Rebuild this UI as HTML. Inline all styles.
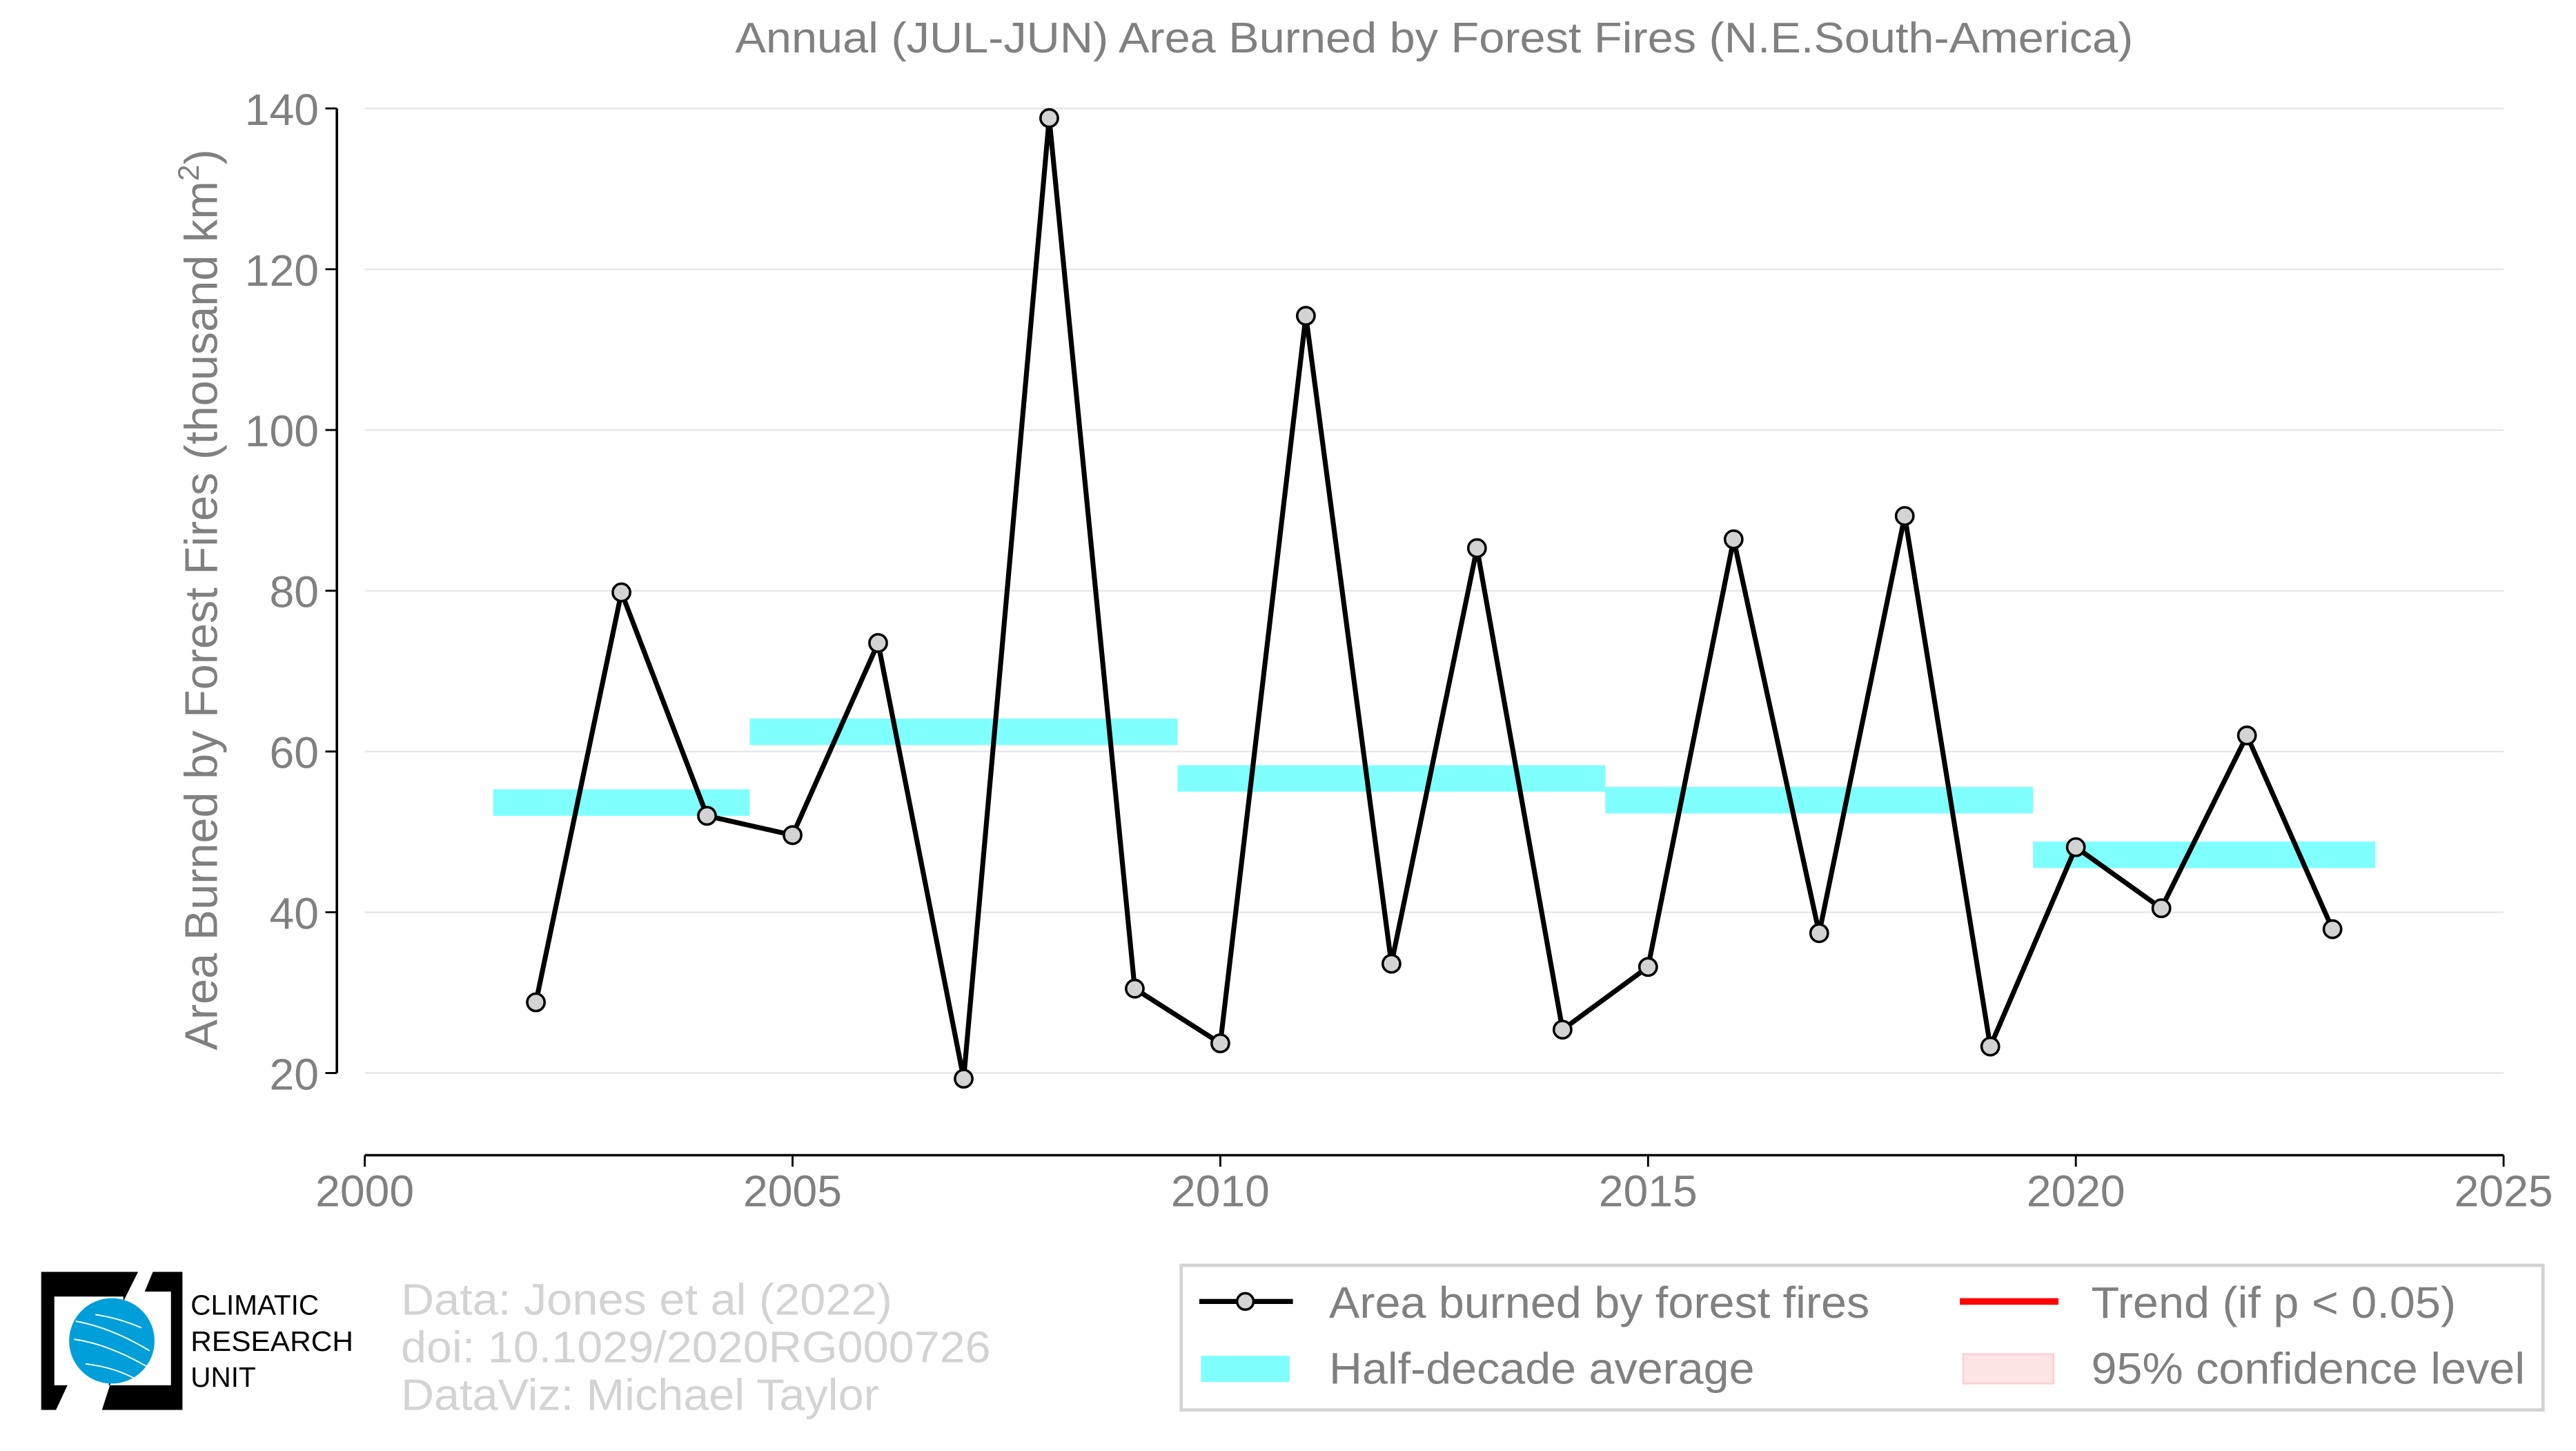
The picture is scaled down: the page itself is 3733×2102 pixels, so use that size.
<!DOCTYPE html>
<html><head><meta charset="utf-8"><style>
html,body{margin:0;padding:0;background:#fff;}
svg{display:block;font-family:"Liberation Sans",sans-serif;}
</style></head><body>
<svg id="chart" width="3733" height="2102" viewBox="0 0 1568 883" xmlns="http://www.w3.org/2000/svg">
<rect width="1568" height="883" fill="#fff"/>
<text x="873" y="32" text-anchor="middle" font-size="26" fill="#808080" textLength="851" lengthAdjust="spacingAndGlyphs">Annual (JUL-JUN) Area Burned by Forest Fires (N.E.South-America)</text>
<g id="grid"></g>
<g id="bars"></g>
<g id="axes"></g>
<g id="series"></g>
<text transform="translate(132,365) rotate(-90)" text-anchor="middle" font-size="28" fill="#808080">Area Burned by Forest Fires (thousand km<tspan font-size="18" dy="-11">2</tspan><tspan dy="11">)</tspan></text>

<g>
<path d="M25,774 H84 L75,792 V789 H33 V843 H41 L34,858 H25 Z" fill="#000"/>
<path d="M111,774 H93 L88,786 H104 V843 H66 L71,830 L62,858 H111 Z" fill="#000"/>
<circle cx="68" cy="816" r="26" fill="#009fd9"/>
<path d="M46,804 Q68,808 91,822 M45,815 Q66,818 90,832 M52,830 Q70,832 84,840 M58,800 Q72,802 86,808" stroke="#fff" stroke-width="0.8" fill="none"/>
<text x="116" y="800" font-size="17" fill="#000">CLIMATIC</text>
<text x="116" y="822" font-size="17" fill="#000" textLength="99" lengthAdjust="spacingAndGlyphs">RESEARCH</text>
<text x="116" y="844" font-size="17" fill="#000">UNIT</text>
</g>
<g font-size="27" fill="#d3d3d3">
<text x="244" y="800" textLength="299" lengthAdjust="spacingAndGlyphs">Data: Jones et al (2022)</text>
<text x="244" y="829" textLength="359" lengthAdjust="spacingAndGlyphs">doi: 10.1029/2020RG000726</text>
<text x="244" y="858" textLength="291" lengthAdjust="spacingAndGlyphs">DataViz: Michael Taylor</text>
</g>
<g>
<rect x="719" y="770" width="829" height="88" fill="#fff" stroke="#d3d3d3" stroke-width="2"/>
<g>
<line x1="730" y1="792" x2="787" y2="792" stroke="#000" stroke-width="3"/>
<circle cx="758" cy="792" r="5" fill="#d3d3d3" stroke="#000" stroke-width="1.5"/>
<text x="809" y="802" font-size="27" fill="#808080" textLength="329" lengthAdjust="spacingAndGlyphs">Area burned by forest fires</text></g>
<g>
<line x1="1193" y1="792" x2="1253" y2="792" stroke="#ff0000" stroke-width="4"/>
<text x="1273" y="802" font-size="27" fill="#808080" textLength="222" lengthAdjust="spacingAndGlyphs">Trend (if p &lt; 0.05)</text></g>
<g>
<rect x="731" y="825" width="54" height="16" fill="#80ffff"/>
<text x="809" y="842" font-size="27" fill="#808080" textLength="259" lengthAdjust="spacingAndGlyphs">Half-decade average</text></g>
<g>
<rect x="1195" y="824" width="55" height="18" fill="#ffe4e4" stroke="#ffd0d0" stroke-width="1"/>
<text x="1273" y="842" font-size="27" fill="#808080" textLength="264" lengthAdjust="spacingAndGlyphs">95% confidence level</text></g>
</g>
</svg>
<script>
const years=[2002,2003,2004,2005,2006,2007,2008,2009,2010,2011,2012,2013,2014,2015,2016,2017,2018,2019,2020,2021,2022,2023];
const values=[28.8,79.8,52,49.6,73.5,19.3,138.8,30.5,23.7,114.2,33.6,85.3,25.4,33.2,86.4,37.4,89.3,23.3,48.1,40.5,62,37.9];
const halfStart=[2001.5,2004.5,2009.5,2014.5,2019.5];
const halfEnd=[2004.5,2009.5,2014.5,2019.5,2023.5];
const halfLow=[52,60.8,55,52.3,45.5];
const halfHigh=[55.3,64.1,58.3,55.6,48.8];
const yTicks=[20,40,60,80,100,120,140];
const xTicks=[2000,2005,2010,2015,2020,2025];
const NS="http://www.w3.org/2000/svg";
const X=v=>222+(v-2000)*(1302/25);
const Y=v=>653-(v-20)*(587/120);
function mk(tag,attrs,parent){const e=document.createElementNS(NS,tag);for(const k in attrs)e.setAttribute(k,attrs[k]);parent.appendChild(e);return e;}
const grid=document.getElementById('grid'),axes=document.getElementById('axes'),bars=document.getElementById('bars'),ser=document.getElementById('series');
yTicks.forEach(t=>{
 const g=mk('line',{x1:222,x2:1524,y1:Y(t),y2:Y(t),stroke:'#e6e6e6','stroke-width':1},grid);
 
 
 const tk=mk('line',{x1:198,x2:205,y1:Y(t),y2:Y(t),stroke:'#000','stroke-width':1.2},axes);
 
 
 const tx=mk('text',{x:194,y:Y(t)+10,'text-anchor':'end','font-size':27,fill:'#808080'},axes);
 tx.textContent=t;
 
 
});
const ya=mk('line',{x1:205,x2:205,y1:Y(140),y2:Y(20),stroke:'#000','stroke-width':1.5},axes);


const xa=mk('line',{x1:222,x2:1524,y1:703,y2:703,stroke:'#000','stroke-width':1.5},axes);


xTicks.forEach(t=>{
 const tk=mk('line',{x1:X(t),x2:X(t),y1:703,y2:710,stroke:'#000','stroke-width':1.2},axes);
 
 
 const tx=mk('text',{x:X(t),y:734,'text-anchor':'middle','font-size':27,fill:'#808080'},axes);
 tx.textContent=t;
 
 
});
halfStart.forEach((s,i)=>{
 const r=mk('rect',{x:X(s),y:Y(halfHigh[i]),width:X(halfEnd[i])-X(s),height:Y(halfLow[i])-Y(halfHigh[i]),fill:'#80ffff'},bars);
 
 
});
const pl=mk('polyline',{points:years.map((y,i)=>X(y)+','+Y(values[i])).join(' '),fill:'none',stroke:'#000','stroke-width':3,'stroke-linejoin':'round'},ser);


years.forEach((y,i)=>{
 const c=mk('circle',{cx:X(y),cy:Y(values[i]),r:5.3,fill:'#d3d3d3',stroke:'#000','stroke-width':1.5},ser);
 
 
});
</script>
</body></html>
